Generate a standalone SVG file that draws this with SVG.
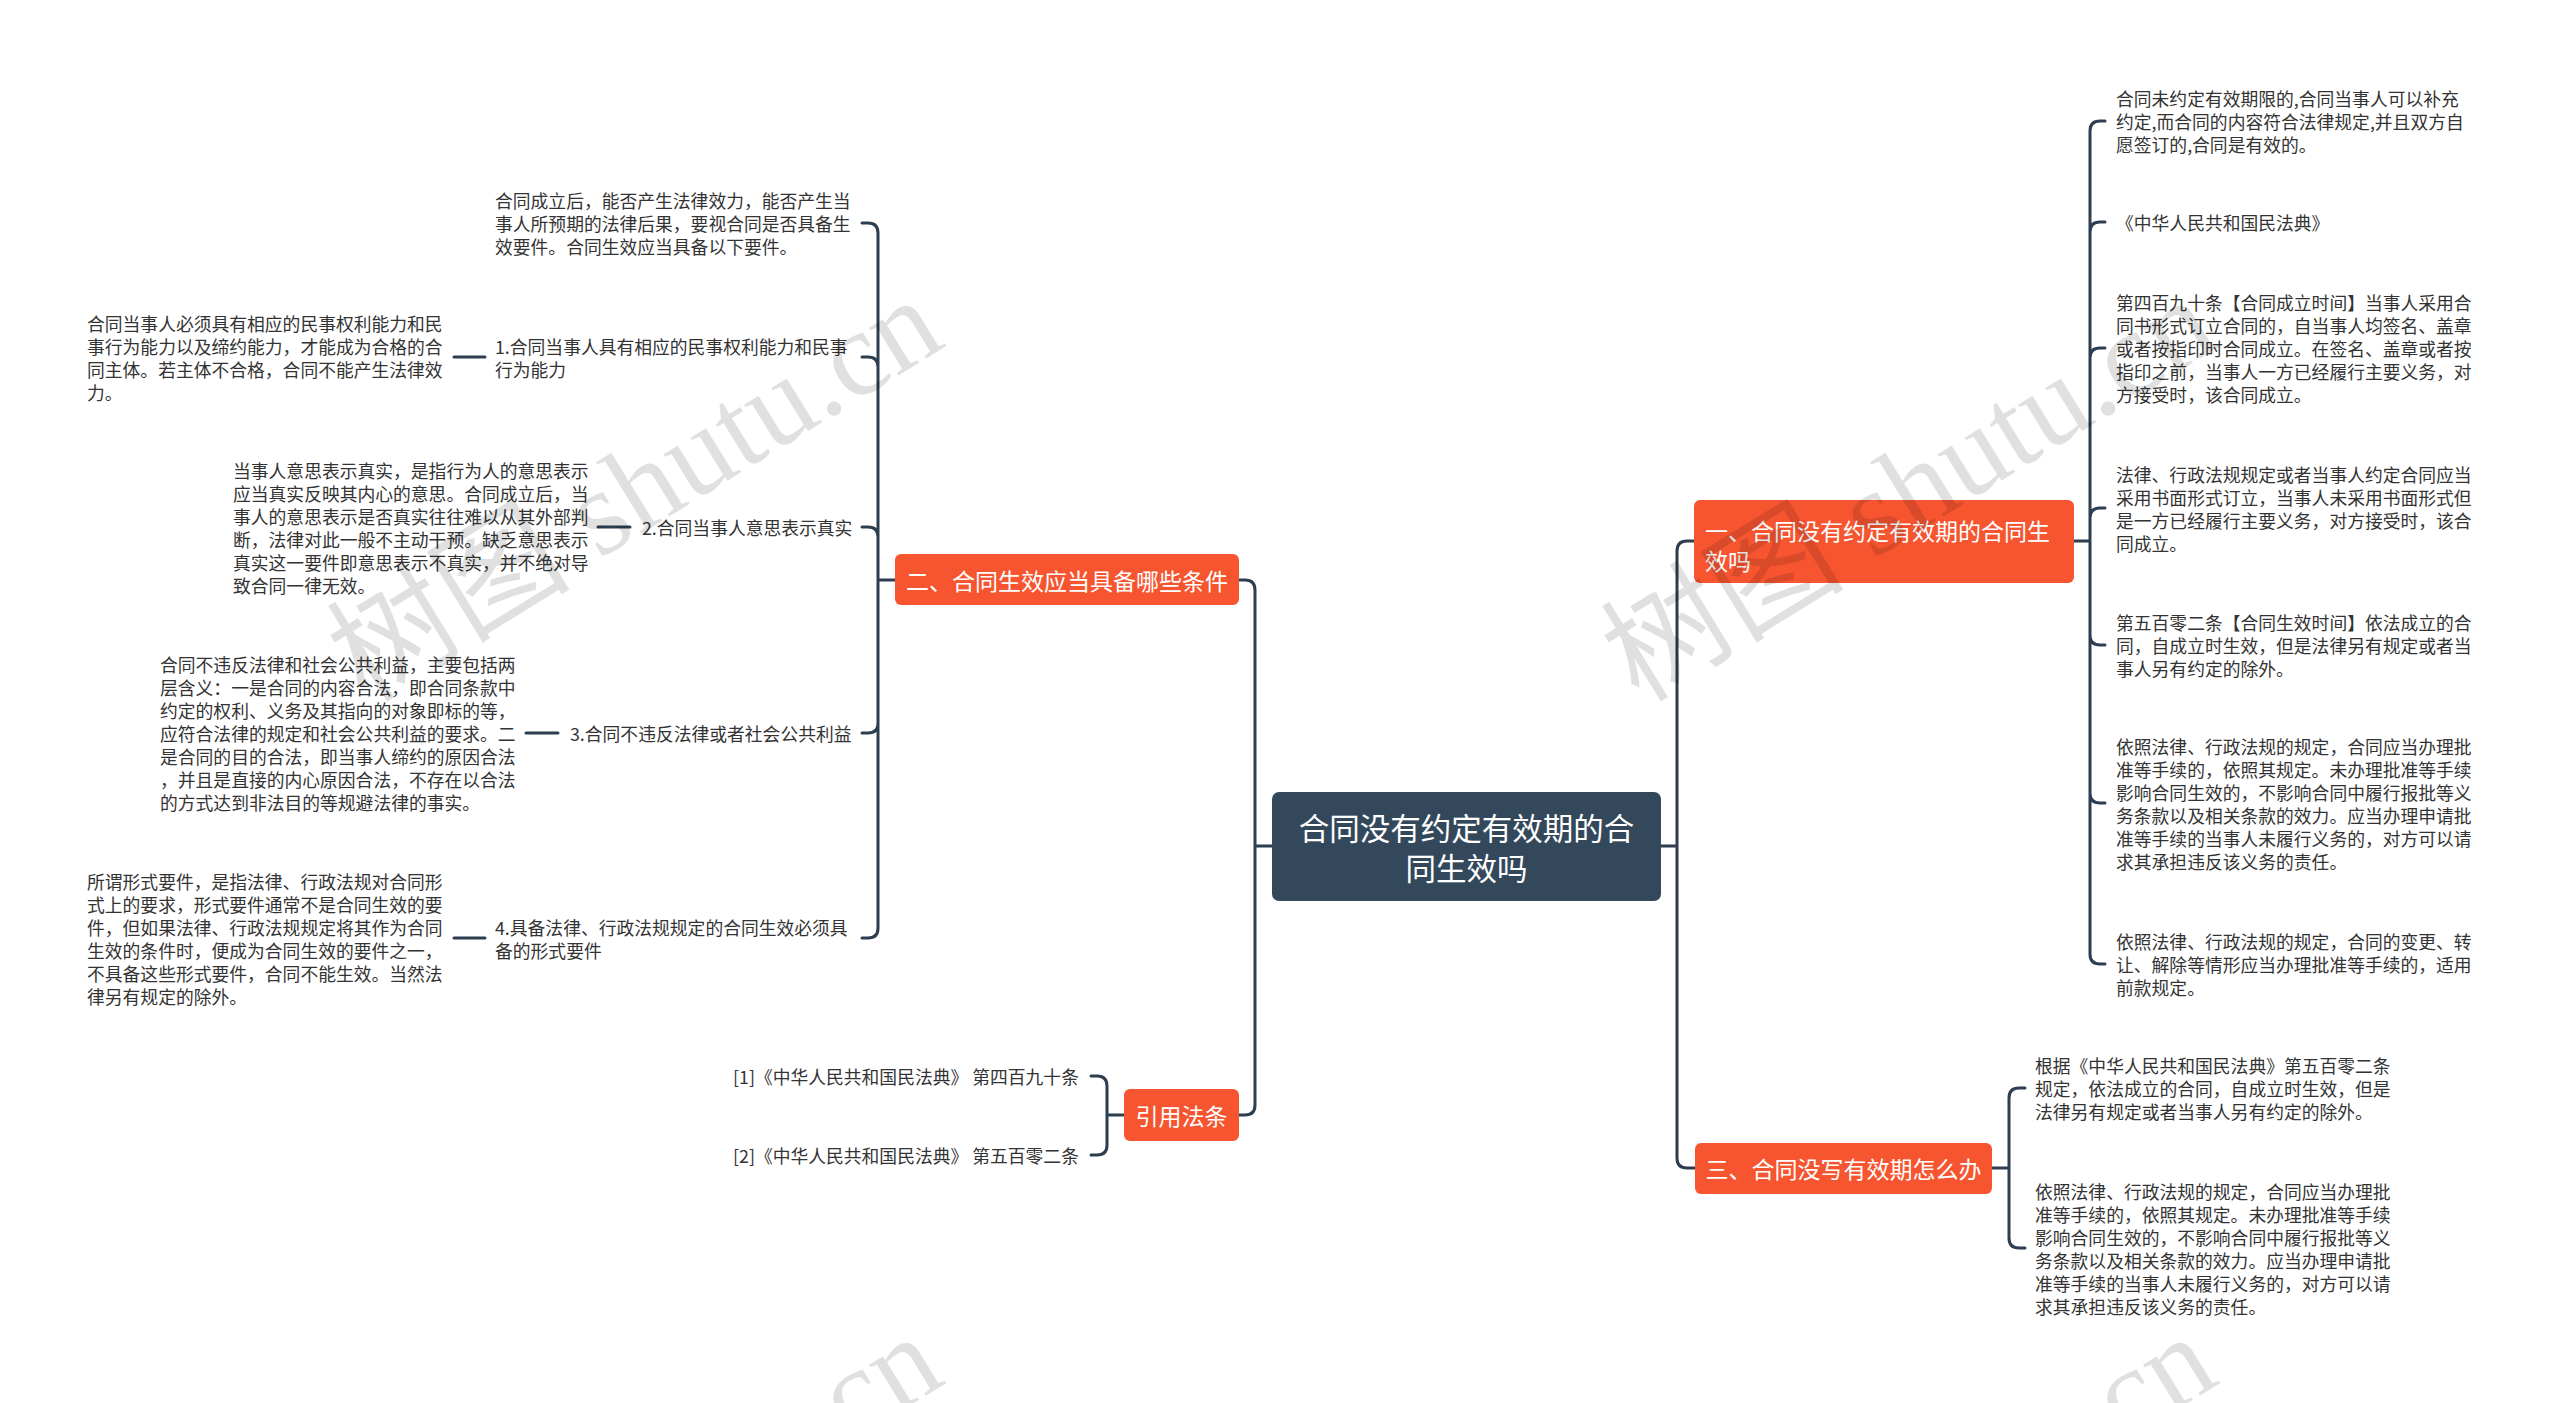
<svg xmlns="http://www.w3.org/2000/svg" width="2560" height="1403" viewBox="0 0 2560 1403">
<style>
text { font-family: "Noto Sans CJK SC", "Noto Sans", sans-serif; dominant-baseline: central; }
.lf { font-size: 17.8px; fill: #333333; }
.bt { font-size: 23px; fill: #ffffff; }
.ct { font-size: 30.5px; fill: #ffffff; }
.br { fill: #f65530; }
.cn { fill: #34485b; }
.ln { fill: none; stroke: #2c3e50; stroke-width: 3; stroke-linecap: round; stroke-linejoin: round; }
.wm { font-family: "Liberation Serif", "Noto Sans CJK SC", serif; font-size: 122px; fill: #000000; fill-opacity: 0.12; dominant-baseline: alphabetic; }
</style>
<rect x="0" y="0" width="2560" height="1403" fill="#ffffff"/>

<g id="connectors">
<path class="ln" d="M1272,846 H1255 M1255,846 V590 Q1255,580 1245,580 H1239 M1255,846 V1105 Q1255,1115 1245,1115 H1239"/>
<path class="ln" d="M1661,846 H1677 M1677,846 V551 Q1677,541 1687,541 H1694 M1677,846 V1158 Q1677,1168 1687,1168 H1695"/>
<path class="ln" d="M895,580 H878 M878,580 V233 Q878,223 868,223 H862 M878,580 V367 Q878,357 868,357 H862 M878,580 V537 Q878,527 868,527 H862 M878,580 V723 Q878,733 868,733 H862 M878,580 V928 Q878,938 868,938 H862"/>
<path class="ln" d="M454,357 H485 M598,527 H630 M526,733 H558 M454,938 H485"/>
<path class="ln" d="M1124,1115 H1107 M1107,1115 V1086 Q1107,1076 1097,1076 H1091 M1107,1115 V1145 Q1107,1155 1097,1155 H1091"/>
<path class="ln" d="M2074,541 H2090 M2090,541 V131 Q2090,121 2100,121 H2105 M2090,541 V232 Q2090,222 2100,222 H2105 M2090,541 V358 Q2090,348 2100,348 H2105 M2090,541 V518 Q2090,508 2100,508 H2105 M2090,541 V635 Q2090,645 2100,645 H2105 M2090,541 V793 Q2090,803 2100,803 H2105 M2090,541 V954 Q2090,964 2100,964 H2105"/>
<path class="ln" d="M1992,1168 H2009 M2009,1168 V1098 Q2009,1088 2019,1088 H2025 M2009,1168 V1238 Q2009,1248 2019,1248 H2025"/>
</g>

<g id="center">
<rect class="cn" x="1272" y="792" width="389" height="109" rx="7"/>
<text class="ct" x="1466.5" y="827" text-anchor="middle">合同没有约定有效期的合</text>
<text class="ct" x="1466.5" y="867" text-anchor="middle">同生效吗</text>
</g>

<g id="branch-2">
<rect class="br" x="895" y="554" width="344" height="51" rx="6"/>
<text class="bt" x="1067" y="580" text-anchor="middle">二、合同生效应当具备哪些条件</text>
</g>

<g id="branch-ref">
<rect class="br" x="1124" y="1089" width="115" height="52" rx="6"/>
<text class="bt" x="1181.5" y="1115" text-anchor="middle">引用法条</text>
</g>

<g id="branch-1">
<rect class="br" x="1694" y="500" width="380" height="83" rx="6"/>
<text class="bt" x="1705" y="530">一、合同没有约定有效期的合同生</text>
<text class="bt" x="1705" y="560">效吗</text>
</g>

<g id="branch-3">
<rect class="br" x="1695" y="1143" width="297" height="51" rx="6"/>
<text class="bt" x="1843.5" y="1168" text-anchor="middle">三、合同没写有效期怎么办</text>
</g>

<g id="l-intro">
<text class="lf" x="495" y="200">合同成立后，能否产生法律效力，能否产生当</text>
<text class="lf" x="495" y="223">事人所预期的法律后果，要视合同是否具备生</text>
<text class="lf" x="495" y="246">效要件。合同生效应当具备以下要件。</text>
</g>

<g id="l-item1">
<text class="lf" x="495" y="345.5">1.合同当事人具有相应的民事权利能力和民事</text>
<text class="lf" x="495" y="368.5">行为能力</text>
</g>
<g id="l-detail1">
<text class="lf" x="87" y="322.5">合同当事人必须具有相应的民事权利能力和民</text>
<text class="lf" x="87" y="345.5">事行为能力以及缔约能力，才能成为合格的合</text>
<text class="lf" x="87" y="368.5">同主体。若主体不合格，合同不能产生法律效</text>
<text class="lf" x="87" y="391.5">力。</text>
</g>

<g id="l-item2">
<text class="lf" x="642" y="527">2.合同当事人意思表示真实</text>
</g>
<g id="l-detail2">
<text class="lf" x="233" y="469.5">当事人意思表示真实，是指行为人的意思表示</text>
<text class="lf" x="233" y="492.5">应当真实反映其内心的意思。合同成立后，当</text>
<text class="lf" x="233" y="515.5">事人的意思表示是否真实往往难以从其外部判</text>
<text class="lf" x="233" y="538.5">断，法律对此一般不主动干预。缺乏意思表示</text>
<text class="lf" x="233" y="561.5">真实这一要件即意思表示不真实，并不绝对导</text>
<text class="lf" x="233" y="584.5">致合同一律无效。</text>
</g>

<g id="l-item3">
<text class="lf" x="570" y="733">3.合同不违反法律或者社会公共利益</text>
</g>
<g id="l-detail3">
<text class="lf" x="160" y="664">合同不违反法律和社会公共利益，主要包括两</text>
<text class="lf" x="160" y="687">层含义：一是合同的内容合法，即合同条款中</text>
<text class="lf" x="160" y="710">约定的权利、义务及其指向的对象即标的等，</text>
<text class="lf" x="160" y="733">应符合法律的规定和社会公共利益的要求。二</text>
<text class="lf" x="160" y="756">是合同的目的合法，即当事人缔约的原因合法</text>
<text class="lf" x="160" y="779">，并且是直接的内心原因合法，不存在以合法</text>
<text class="lf" x="160" y="802">的方式达到非法目的等规避法律的事实。</text>
</g>

<g id="l-item4">
<text class="lf" x="495" y="926.5">4.具备法律、行政法规规定的合同生效必须具</text>
<text class="lf" x="495" y="949.5">备的形式要件</text>
</g>
<g id="l-detail4">
<text class="lf" x="87" y="880.5">所谓形式要件，是指法律、行政法规对合同形</text>
<text class="lf" x="87" y="903.5">式上的要求，形式要件通常不是合同生效的要</text>
<text class="lf" x="87" y="926.5">件，但如果法律、行政法规规定将其作为合同</text>
<text class="lf" x="87" y="949.5">生效的条件时，便成为合同生效的要件之一，</text>
<text class="lf" x="87" y="972.5">不具备这些形式要件，合同不能生效。当然法</text>
<text class="lf" x="87" y="995.5">律另有规定的除外。</text>
</g>

<g id="ref-1">
<text class="lf" x="733" y="1076">[1]《中华人民共和国民法典》 第四百九十条</text>
</g>
<g id="ref-2">
<text class="lf" x="733" y="1155">[2]《中华人民共和国民法典》 第五百零二条</text>
</g>

<g id="r1">
<text class="lf" x="2116" y="98">合同未约定有效期限的,合同当事人可以补充</text>
<text class="lf" x="2116" y="121">约定,而合同的内容符合法律规定,并且双方自</text>
<text class="lf" x="2116" y="144">愿签订的,合同是有效的。</text>
</g>
<g id="r2">
<text class="lf" x="2116" y="222">《中华人民共和国民法典》</text>
</g>
<g id="r3">
<text class="lf" x="2116" y="302">第四百九十条【合同成立时间】当事人采用合</text>
<text class="lf" x="2116" y="325">同书形式订立合同的，自当事人均签名、盖章</text>
<text class="lf" x="2116" y="348">或者按指印时合同成立。在签名、盖章或者按</text>
<text class="lf" x="2116" y="371">指印之前，当事人一方已经履行主要义务，对</text>
<text class="lf" x="2116" y="394">方接受时，该合同成立。</text>
</g>
<g id="r4">
<text class="lf" x="2116" y="474">法律、行政法规规定或者当事人约定合同应当</text>
<text class="lf" x="2116" y="497">采用书面形式订立，当事人未采用书面形式但</text>
<text class="lf" x="2116" y="520">是一方已经履行主要义务，对方接受时，该合</text>
<text class="lf" x="2116" y="543">同成立。</text>
</g>
<g id="r5">
<text class="lf" x="2116" y="622">第五百零二条【合同生效时间】依法成立的合</text>
<text class="lf" x="2116" y="645">同，自成立时生效，但是法律另有规定或者当</text>
<text class="lf" x="2116" y="668">事人另有约定的除外。</text>
</g>
<g id="r6">
<text class="lf" x="2116" y="746">依照法律、行政法规的规定，合同应当办理批</text>
<text class="lf" x="2116" y="769">准等手续的，依照其规定。未办理批准等手续</text>
<text class="lf" x="2116" y="792">影响合同生效的，不影响合同中履行报批等义</text>
<text class="lf" x="2116" y="815">务条款以及相关条款的效力。应当办理申请批</text>
<text class="lf" x="2116" y="838">准等手续的当事人未履行义务的，对方可以请</text>
<text class="lf" x="2116" y="861">求其承担违反该义务的责任。</text>
</g>
<g id="r7">
<text class="lf" x="2116" y="941">依照法律、行政法规的规定，合同的变更、转</text>
<text class="lf" x="2116" y="964">让、解除等情形应当办理批准等手续的，适用</text>
<text class="lf" x="2116" y="987">前款规定。</text>
</g>

<g id="s1">
<text class="lf" x="2035" y="1065">根据《中华人民共和国民法典》第五百零二条</text>
<text class="lf" x="2035" y="1088">规定，依法成立的合同，自成立时生效，但是</text>
<text class="lf" x="2035" y="1111">法律另有规定或者当事人另有约定的除外。</text>
</g>
<g id="s2">
<text class="lf" x="2035" y="1190.5">依照法律、行政法规的规定，合同应当办理批</text>
<text class="lf" x="2035" y="1213.5">准等手续的，依照其规定。未办理批准等手续</text>
<text class="lf" x="2035" y="1236.5">影响合同生效的，不影响合同中履行报批等义</text>
<text class="lf" x="2035" y="1259.5">务条款以及相关条款的效力。应当办理申请批</text>
<text class="lf" x="2035" y="1282.5">准等手续的当事人未履行义务的，对方可以请</text>
<text class="lf" x="2035" y="1305.5">求其承担违反该义务的责任。</text>
</g>

<g id="watermark">
<text class="wm" x="0" y="0" text-anchor="end" transform="translate(948,345) rotate(-31.6)">树图 shutu.cn</text>
<text class="wm" x="0" y="0" text-anchor="end" transform="translate(2222,345) rotate(-31.6)">树图 shutu.cn</text>
<text class="wm" x="0" y="0" text-anchor="end" transform="translate(948,1382) rotate(-31.6)">树图 shutu.cn</text>
<text class="wm" x="0" y="0" text-anchor="end" transform="translate(2222,1382) rotate(-31.6)">树图 shutu.cn</text>
</g>
</svg>
